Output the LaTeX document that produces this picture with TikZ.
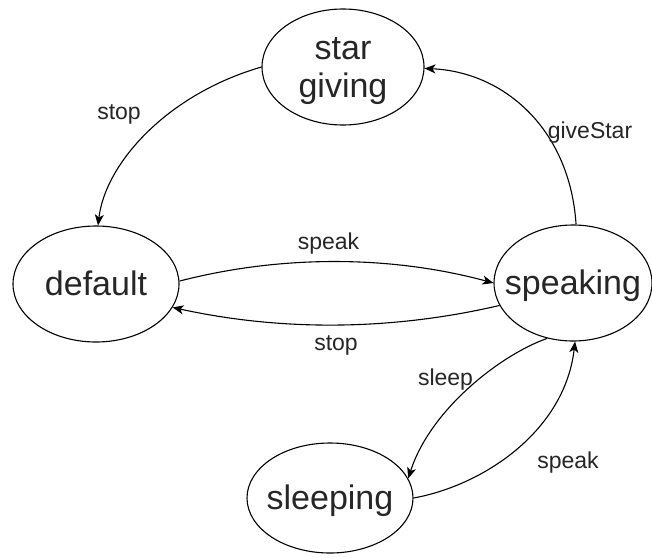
\documentclass[tikz,border=0pt]{standalone}
\usepackage{fontspec}
\setmainfont{Liberation Sans}
\usetikzlibrary{shapes.geometric,arrows.meta}
\begin{document}
\begin{tikzpicture}[x=1pt,y=-1pt,
  state/.style={ellipse, draw=black, line width=1.1pt, inner sep=0pt,
    font=\fontsize{34}{38}\selectfont, text=black!85},
  single/.style={text height=23pt, text depth=0pt},
  edge/.style={draw=black, line width=1.1pt, -{Stealth[length=11pt,width=9pt,inset=3pt]}},
  lbl/.style={font=\fontsize{23}{27}\selectfont, text=black!85, inner sep=0pt, anchor=base}]
\useasboundingbox (0,0) rectangle (652,557);
\fill[white] (0,0) rectangle (652,557);
% states
\node[state, text height=60pt, text depth=0pt, minimum width=162pt, minimum height=116pt] (sg) at (343,67)
  {\makebox[0pt]{\begin{tabular}[b]{@{}c@{}}star\\giving\end{tabular}}};
\node[state, single, minimum width=166pt, minimum height=116pt] (def) at (96,284) {\makebox[0pt]{default}};
\node[state, single, minimum width=158pt, minimum height=116pt] (spk) at (573,283) {\makebox[0pt]{speaking}};
\node[state, single, minimum width=166pt, minimum height=110pt] (slp) at (330,498) {\makebox[0pt]{sleeping}};
% connectors
\draw[edge] (sg.180) .. controls (165,95) and (105,165) .. (def.88);
\draw[edge] (def.2) .. controls (280,255) and (390,255) .. (spk.180);
\draw[edge] (spk.197) .. controls (390,331) and (280,331) .. (def.343);
\draw[edge] (spk.87) .. controls (570,130) and (505,72) .. (sg.359);
\draw[edge] (spk.245.6) .. controls (500,355) and (430,410) .. (slp.14.7);
\draw[edge] (slp.0) .. controls (485,485) and (565,430) .. (spk.272);
% labels
\node[lbl] (l1) at (119,119) {stop};
\node[lbl] (l2) at (328.5,249) {speak};
\node[lbl] (l3) at (336,350) {stop};
\node[lbl] (l4) at (590,138) {giveStar};
\node[lbl] (l5) at (445.5,385) {sleep};
\node[lbl] (l6) at (568,468.5) {speak};
\end{tikzpicture}
\end{document}
